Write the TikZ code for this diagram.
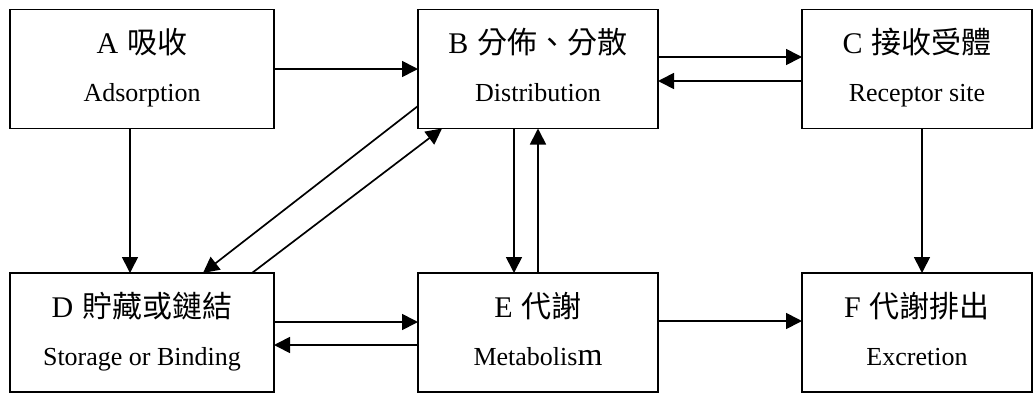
\documentclass[tikz,border=0pt]{standalone}
\usepackage{fontspec}
\setmainfont{Liberation Serif}
\newfontfamily\cjk{Noto Sans CJK TC}
\usetikzlibrary{arrows.meta}
\tikzset{
  box/.style={draw, line width=1.8pt, minimum width=264pt, minimum height=119pt, inner sep=0pt, outer sep=0pt},
  boxr/.style={box, minimum width=230pt},
  ttl/.style={anchor=base, inner sep=0pt, font=\fontsize{30}{30}\selectfont},
  sub/.style={anchor=base, inner sep=0pt, font=\fontsize{26}{26}\selectfont},
  arr/.style={line width=1.7pt, -{Triangle[length=16pt,width=16pt]}}
}
\newcommand{\gapc}{\hspace{0.3em}}
\begin{document}
\begin{tikzpicture}[x=1pt,y=-1pt]
\useasboundingbox (0,0) rectangle (1034,394);
\node[box] (A) at (142,69) {};
\node[box, minimum width=240pt] (B) at (538,69) {};
\node[boxr] (C) at (917,69) {};
\node[box] (D) at (142,332.5) {};
\node[box, minimum width=240pt] (E) at (538,332.5) {};
\node[boxr] (F) at (917,332.5) {};
% texts
\node[ttl] (At) at (142,53) {A\gapc{\cjk 吸收}};
\node[sub] (As) at (142,101) {Adsorption};
\node[ttl] (Bt) at (538,53) {B\gapc{\cjk 分佈、分散}};
\node[sub] (Bs) at (538,101) {Distribution};
\node[ttl] (Ct) at (917,53) {C\gapc{\cjk 接收受體}};
\node[sub] (Cs) at (917,101) {Receptor site};
\node[ttl] (Dt) at (142,317) {D\gapc{\cjk 貯藏或鏈結}};
\node[sub] (Ds) at (142,365) {Storage or Binding};
\node[ttl] (Et) at (538,317) {E\gapc{\cjk 代謝}};
\node[sub] (Es) at (538,365) {Metabolis{\fontsize{32}{32}\selectfont m}};
\node[ttl] (Ft) at (917,317) {F\gapc{\cjk 代謝排出}};
\node[sub] (Fs) at (917,365) {Excretion};
% connectors
\draw[arr] (A.east) -- (B.west);
\draw[arr] ([yshift=12pt]B.east) -- ([yshift=12pt]C.west);
\draw[arr] ([yshift=-12pt]C.west) -- ([yshift=-12pt]B.east);
\draw[arr] ([xshift=-12pt]A.south) -- ([xshift=-12pt]D.north);
\draw[arr] ([yshift=-37pt]B.west) -- ([xshift=61pt]D.north);
\draw[arr] ([xshift=110pt]D.north) -- ([xshift=-96pt]B.south);
\draw[arr] ([xshift=-24pt]B.south) -- ([xshift=-24pt]E.north);
\draw[arr] (E.north) -- (B.south);
\draw[arr] ([xshift=5pt]C.south) -- ([xshift=5pt]F.north);
\draw[arr] ([yshift=10.5pt]D.east) -- ([yshift=10.5pt]E.west);
\draw[arr] ([yshift=-12.5pt]E.west) -- ([yshift=-12.5pt]D.east);
\draw[arr] ([yshift=11.5pt]E.east) -- ([yshift=11.5pt]F.west);
\end{tikzpicture}
\end{document}
